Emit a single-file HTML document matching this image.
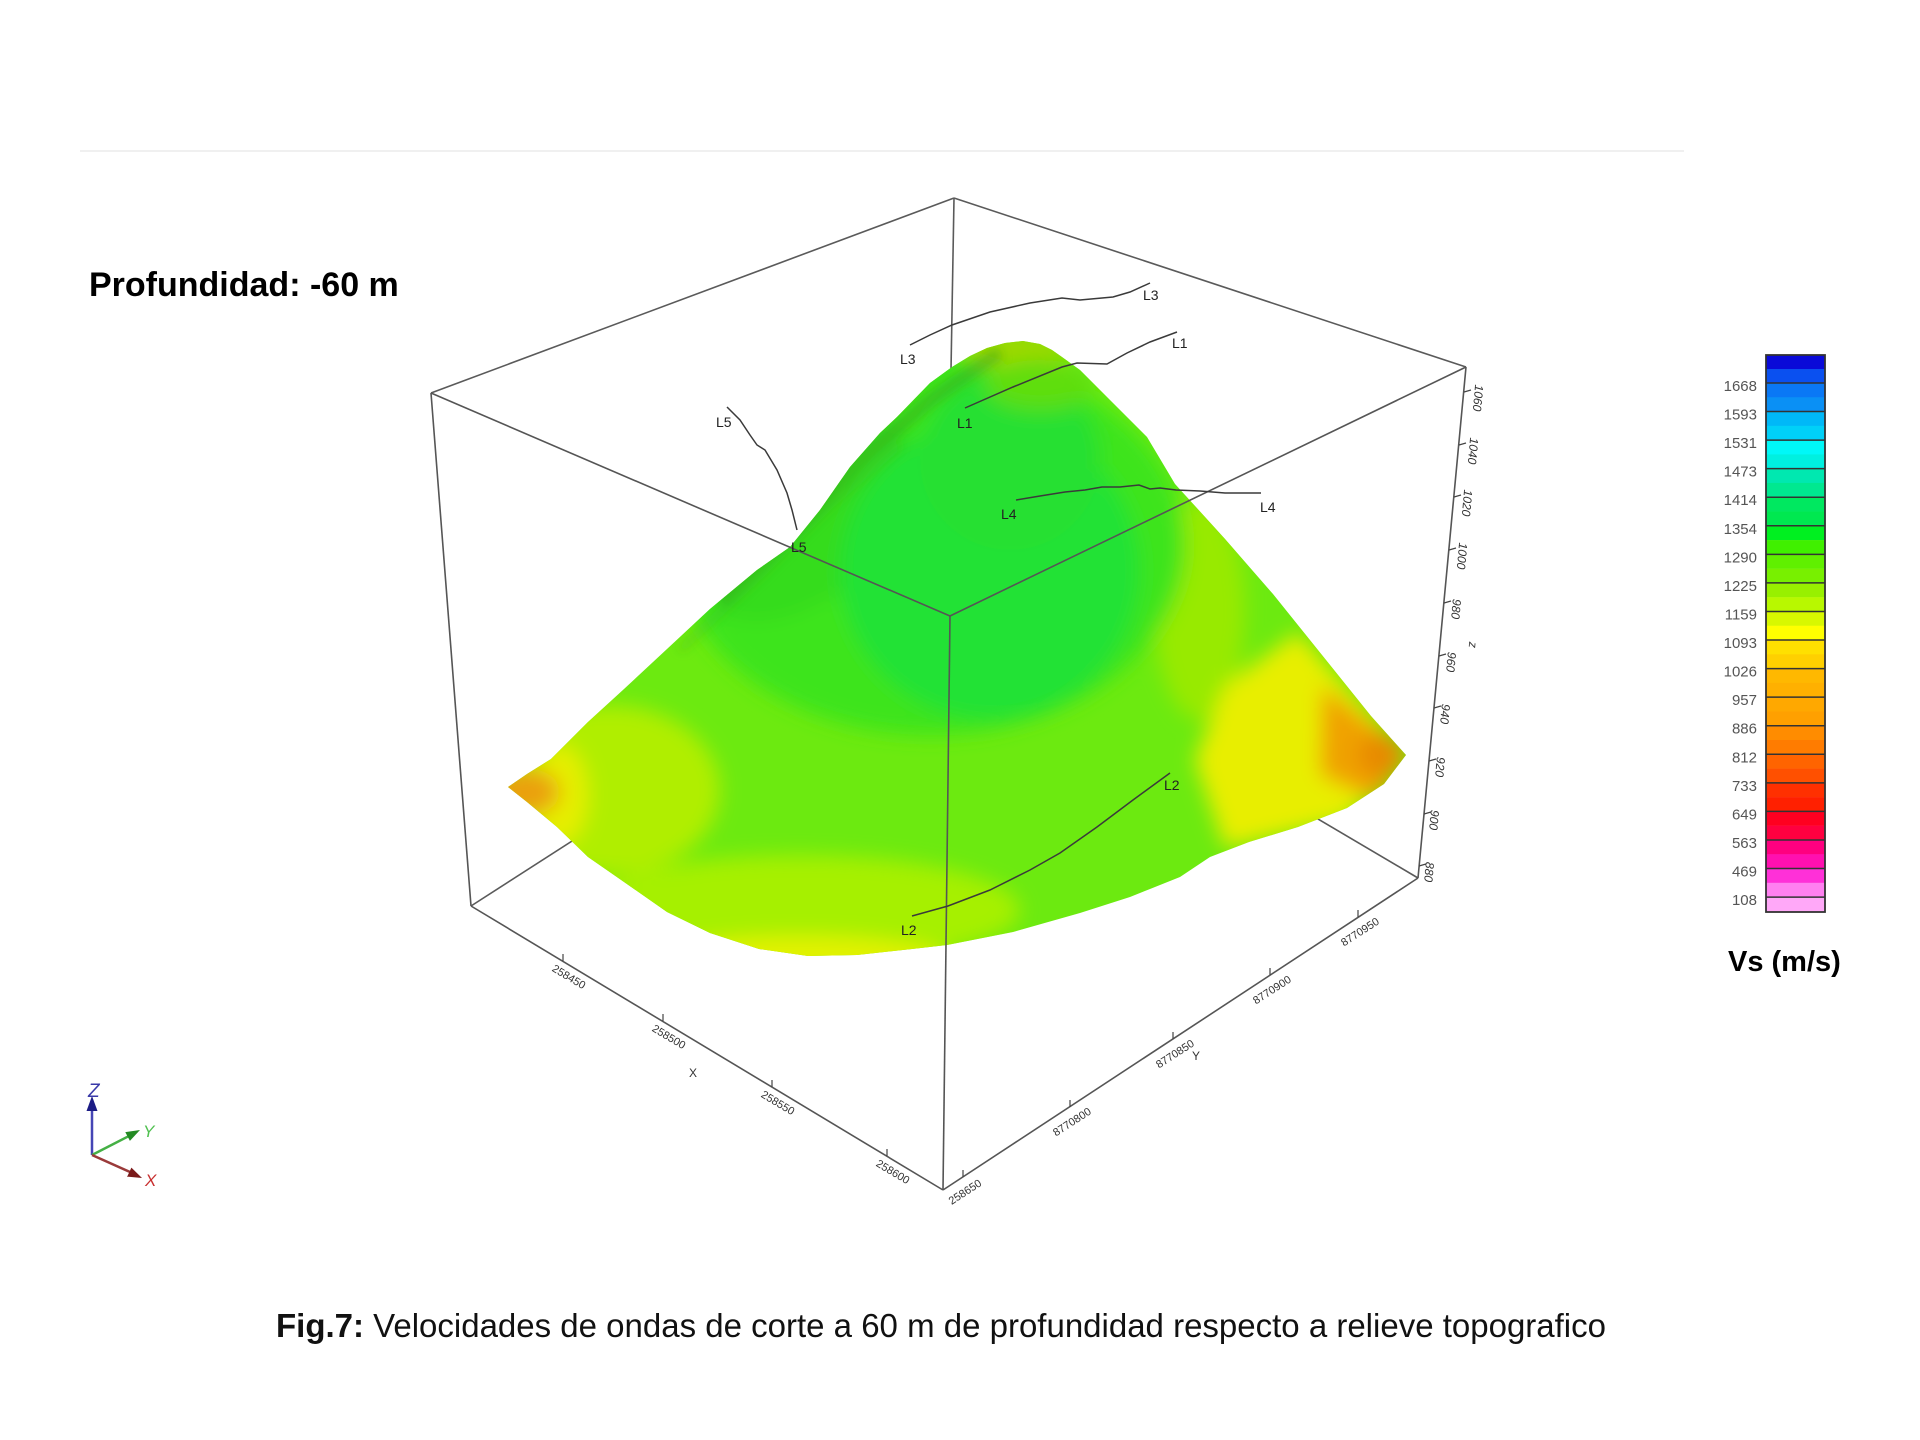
<!DOCTYPE html>
<html>
<head>
<meta charset="utf-8">
<style>
  html,body{margin:0;padding:0;background:#fff;}
  body{width:1920px;height:1440px;overflow:hidden;}
  svg{display:block;}
  text{font-family:"Liberation Sans", Arial, sans-serif;}
</style>
</head>
<body>
<svg width="1920" height="1440" viewBox="0 0 1920 1440" xmlns="http://www.w3.org/2000/svg">
  <defs>
    <clipPath id="mclip">
      <path d="M508,787 L527,774 L551,759 L588,722 L624,689 L667,649 L710,609 L757,570 L790,547 L820,510 L850,467 L880,433 L897,417 L930,383 L952,367 L970,356 L987,348 L1005,343 L1023,341 L1040,344 L1052,350 L1062,357 L1080,370 L1113,403 L1147,437 L1175,484 L1225,539 L1273,594 L1322,655 L1371,716 L1406,755 L1384,784 L1347,808 L1298,827 L1249,842 L1210,857 L1180,877 L1130,897 L1080,913 L1013,932 L947,945 L912,949 L857,955 L808,956 L759,949 L710,933 L667,912 L624,882 L588,857 L557,827 L527,802 Z"/>
    </clipPath>
    <filter id="blur" x="-20%" y="-20%" width="140%" height="140%">
      <feGaussianBlur stdDeviation="10"/>
    </filter>
    <filter id="blur2" x="-20%" y="-20%" width="140%" height="140%">
      <feGaussianBlur stdDeviation="5"/>
    </filter>
  </defs>

  <line x1="80" y1="151" x2="1684" y2="151" stroke="#f0f0f0" stroke-width="2"/>

  <text x="89" y="296" font-size="34" font-weight="bold" fill="#000">Profundidad: -60 m</text>

  <g stroke="#5a5a5a" stroke-width="1.6" fill="none">
    <line x1="954" y1="198" x2="431" y2="393"/>
    <line x1="954" y1="198" x2="1466" y2="367"/>
    <line x1="954" y1="198" x2="947" y2="600"/>
    <line x1="471" y1="906" x2="947" y2="600"/>
    <line x1="1418" y1="878" x2="947" y2="600"/>
  </g>

  <g clip-path="url(#mclip)">
    <rect x="480" y="320" width="960" height="660" fill="#6cea10"/>
    <g filter="url(#blur)">
      <ellipse cx="610" cy="790" rx="110" ry="85" fill="#b0ee00"/>
      <ellipse cx="800" cy="910" rx="220" ry="55" fill="#a6f000"/>
      <ellipse cx="800" cy="962" rx="150" ry="26" fill="#e2f200"/>
      <ellipse cx="560" cy="795" rx="28" ry="50" fill="#e6ee00"/>
      <ellipse cx="524" cy="792" rx="36" ry="24" fill="#eaa010"/>
      <ellipse cx="1200" cy="610" rx="45" ry="110" fill="#98ea00"/>
      <polygon points="1225,686 1298,632 1406,753 1347,820 1225,848 1195,760" fill="#e8ee00"/>
      <polygon points="1322,686 1410,753 1375,800 1320,775" fill="#f0a200"/>
      <ellipse cx="1380" cy="755" rx="22" ry="22" fill="#e88a00"/>
      <ellipse cx="930" cy="545" rx="255" ry="190" fill="#3ee41e"/>
      <ellipse cx="810" cy="520" rx="130" ry="75" fill="#36dc1c" transform="rotate(-40 810 520)"/>
      <ellipse cx="990" cy="570" rx="150" ry="150" fill="#20e236"/>
      <ellipse cx="1010" cy="460" rx="90" ry="90" fill="#26e032"/>
      <ellipse cx="1015" cy="350" rx="55" ry="18" fill="#9ed800"/>
      <ellipse cx="1040" cy="385" rx="55" ry="25" fill="#5ede10"/>
    </g>
    <g filter="url(#blur2)" fill="none">
      <path d="M1000,352 L930,400 L860,460 L790,530 L720,600" stroke="#2f9a18" stroke-width="14" opacity="0.4"/>
      <path d="M900,445 L830,505 L760,575 L680,650" stroke="#3aa820" stroke-width="8" opacity="0.25"/>
    </g>
  </g>

  <g stroke="#555" stroke-width="1.6" fill="none">
    <line x1="431" y1="393" x2="950" y2="616"/>
    <line x1="950" y1="616" x2="1466" y2="367"/>
    <line x1="950" y1="616" x2="943" y2="1190"/>
    <line x1="431" y1="393" x2="471" y2="906"/>
    <line x1="1466" y1="367" x2="1418" y2="878"/>
    <line x1="471" y1="906" x2="943" y2="1190"/>
    <line x1="943" y1="1190" x2="1418" y2="878"/>
  </g>

  <g stroke="#444" stroke-width="1.2">
    <line x1="563" y1="961" x2="563" y2="954"/>
    <line x1="663" y1="1021" x2="663" y2="1014"/>
    <line x1="772" y1="1087" x2="772" y2="1080"/>
    <line x1="887" y1="1156" x2="887" y2="1149"/>
  </g>
  <g font-size="11" fill="#333" text-anchor="middle">
    <text x="567" y="980" transform="rotate(31 567 980)">258450</text>
    <text x="667" y="1040" transform="rotate(31 667 1040)">258500</text>
    <text x="776" y="1106" transform="rotate(31 776 1106)">258550</text>
    <text x="891" y="1175" transform="rotate(31 891 1175)">258600</text>
    <text x="693" y="1077" font-size="12">X</text>
  </g>

  <g stroke="#444" stroke-width="1.2">
    <line x1="963" y1="1177" x2="963" y2="1170"/>
    <line x1="1070" y1="1107" x2="1070" y2="1100"/>
    <line x1="1173" y1="1039" x2="1173" y2="1032"/>
    <line x1="1270" y1="975" x2="1270" y2="968"/>
    <line x1="1358" y1="917" x2="1358" y2="910"/>
  </g>
  <g font-size="11" fill="#333" text-anchor="middle">
    <text x="967" y="1195" transform="rotate(-33 967 1195)">258650</text>
    <text x="1074" y="1125" transform="rotate(-33 1074 1125)">8770800</text>
    <text x="1177" y="1057" transform="rotate(-33 1177 1057)">8770850</text>
    <text x="1274" y="993" transform="rotate(-33 1274 993)">8770900</text>
    <text x="1362" y="935" transform="rotate(-33 1362 935)">8770950</text>
    <text x="1196" y="1060" font-size="12">Y</text>
  </g>

  <g stroke="#444" stroke-width="1.2">
    <line x1="1464" y1="392" x2="1471" y2="390"/>
    <line x1="1459" y1="445" x2="1466" y2="443"/>
    <line x1="1454" y1="497" x2="1461" y2="495"/>
    <line x1="1449" y1="550" x2="1456" y2="548"/>
    <line x1="1444" y1="603" x2="1451" y2="601"/>
    <line x1="1439" y1="656" x2="1446" y2="654"/>
    <line x1="1434" y1="708" x2="1441" y2="706"/>
    <line x1="1429" y1="761" x2="1436" y2="759"/>
    <line x1="1424" y1="814" x2="1431" y2="812"/>
    <line x1="1419" y1="866" x2="1426" y2="864"/>
  </g>
  <g font-size="12" fill="#333" text-anchor="middle" font-style="italic">
    <text x="1478" y="402" transform="rotate(95 1478 398)">1060</text>
    <text x="1473" y="455" transform="rotate(95 1473 451)">1040</text>
    <text x="1467" y="507" transform="rotate(95 1467 503)">1020</text>
    <text x="1462" y="560" transform="rotate(95 1462 556)">1000</text>
    <text x="1456" y="613" transform="rotate(95 1456 609)">980</text>
    <text x="1451" y="666" transform="rotate(95 1451 662)">960</text>
    <text x="1445" y="718" transform="rotate(95 1445 714)">940</text>
    <text x="1440" y="771" transform="rotate(95 1440 767)">920</text>
    <text x="1434" y="824" transform="rotate(95 1434 820)">900</text>
    <text x="1429" y="876" transform="rotate(95 1429 872)">880</text>
    <text x="1473" y="649" transform="rotate(95 1473 645)">z</text>
  </g>

  <g stroke="#3a3a3a" stroke-width="1.5" fill="none">
    <polyline points="910,345 930,335 952,325 990,312 1030,303 1062,298 1080,300 1113,297 1130,292 1150,283"/>
    <polyline points="965,408 1013,387 1062,367 1077,363 1107,364 1127,353 1150,342 1177,332"/>
    <polyline points="1016,500 1040,496 1065,492 1085,490 1102,487 1120,487 1139,485 1150,489 1160,488 1176,490 1200,491 1225,493 1261,493"/>
    <polyline points="727,407 740,420 750,435 757,445 765,450 777,470 787,493 792,510 797,530"/>
    <polyline points="912,916 948,906 990,890 1030,870 1060,853 1097,827 1133,800 1170,773"/>
  </g>
  <g font-size="14" fill="#222">
    <text x="900" y="364">L3</text>
    <text x="1143" y="300">L3</text>
    <text x="957" y="428">L1</text>
    <text x="1172" y="348">L1</text>
    <text x="1001" y="519">L4</text>
    <text x="1260" y="512">L4</text>
    <text x="716" y="427">L5</text>
    <text x="791" y="552">L5</text>
    <text x="901" y="935">L2</text>
    <text x="1164" y="790">L2</text>
  </g>

  <g>
    <rect x="1766" y="355" width="59" height="14.5" fill="#0a0ad8"/>
    <rect x="1766" y="369" width="59" height="14.5" fill="#0a50f0"/>
    <rect x="1766" y="383" width="59" height="14.5" fill="#0a78f5"/>
    <rect x="1766" y="397.28" width="59" height="14.5" fill="#0a90f5"/>
    <rect x="1766" y="411.56" width="59" height="14.5" fill="#00b8f8"/>
    <rect x="1766" y="425.84" width="59" height="14.5" fill="#00d0f8"/>
    <rect x="1766" y="440.12" width="59" height="14.5" fill="#00f8f8"/>
    <rect x="1766" y="454.4" width="59" height="14.5" fill="#00f0e0"/>
    <rect x="1766" y="468.68" width="59" height="14.5" fill="#00e8b0"/>
    <rect x="1766" y="482.96" width="59" height="14.5" fill="#00e890"/>
    <rect x="1766" y="497.24" width="59" height="14.5" fill="#00e860"/>
    <rect x="1766" y="511.52" width="59" height="14.5" fill="#00e850"/>
    <rect x="1766" y="525.8" width="59" height="14.5" fill="#00f020"/>
    <rect x="1766" y="540.08" width="59" height="14.5" fill="#40f000"/>
    <rect x="1766" y="554.36" width="59" height="14.5" fill="#60f000"/>
    <rect x="1766" y="568.64" width="59" height="14.5" fill="#78f000"/>
    <rect x="1766" y="582.92" width="59" height="14.5" fill="#98f000"/>
    <rect x="1766" y="597.2" width="59" height="14.5" fill="#b8f800"/>
    <rect x="1766" y="611.48" width="59" height="14.5" fill="#d8f800"/>
    <rect x="1766" y="625.76" width="59" height="14.5" fill="#ffff00"/>
    <rect x="1766" y="640.04" width="59" height="14.5" fill="#ffe000"/>
    <rect x="1766" y="654.32" width="59" height="14.5" fill="#ffd000"/>
    <rect x="1766" y="668.6" width="59" height="14.5" fill="#ffb800"/>
    <rect x="1766" y="682.88" width="59" height="14.5" fill="#ffb000"/>
    <rect x="1766" y="697.16" width="59" height="14.5" fill="#ffa800"/>
    <rect x="1766" y="711.44" width="59" height="14.5" fill="#ffa000"/>
    <rect x="1766" y="725.72" width="59" height="14.5" fill="#ff8c00"/>
    <rect x="1766" y="740" width="59" height="14.5" fill="#ff7c00"/>
    <rect x="1766" y="754.28" width="59" height="14.5" fill="#ff6400"/>
    <rect x="1766" y="768.56" width="59" height="14.5" fill="#ff5000"/>
    <rect x="1766" y="782.84" width="59" height="14.5" fill="#ff3000"/>
    <rect x="1766" y="797.12" width="59" height="14.5" fill="#ff2000"/>
    <rect x="1766" y="811.4" width="59" height="14.5" fill="#ff0020"/>
    <rect x="1766" y="825.68" width="59" height="14.5" fill="#ff0040"/>
    <rect x="1766" y="839.96" width="59" height="14.5" fill="#ff0080"/>
    <rect x="1766" y="854.24" width="59" height="14.5" fill="#ff10b0"/>
    <rect x="1766" y="868.52" width="59" height="14.5" fill="#ff30d8"/>
    <rect x="1766" y="882.8" width="59" height="14.5" fill="#ff80f0"/>
    <rect x="1766" y="897.08" width="59" height="14.92" fill="#ffa8f8"/>
    <g stroke="#333" stroke-width="1.5">
      <line x1="1766" x2="1825" y1="383" y2="383"/>
      <line x1="1766" x2="1825" y1="411.56" y2="411.56"/>
      <line x1="1766" x2="1825" y1="440.12" y2="440.12"/>
      <line x1="1766" x2="1825" y1="468.68" y2="468.68"/>
      <line x1="1766" x2="1825" y1="497.24" y2="497.24"/>
      <line x1="1766" x2="1825" y1="525.8" y2="525.8"/>
      <line x1="1766" x2="1825" y1="554.36" y2="554.36"/>
      <line x1="1766" x2="1825" y1="582.92" y2="582.92"/>
      <line x1="1766" x2="1825" y1="611.48" y2="611.48"/>
      <line x1="1766" x2="1825" y1="640.04" y2="640.04"/>
      <line x1="1766" x2="1825" y1="668.6" y2="668.6"/>
      <line x1="1766" x2="1825" y1="697.16" y2="697.16"/>
      <line x1="1766" x2="1825" y1="725.72" y2="725.72"/>
      <line x1="1766" x2="1825" y1="754.28" y2="754.28"/>
      <line x1="1766" x2="1825" y1="782.84" y2="782.84"/>
      <line x1="1766" x2="1825" y1="811.4" y2="811.4"/>
      <line x1="1766" x2="1825" y1="839.96" y2="839.96"/>
      <line x1="1766" x2="1825" y1="868.52" y2="868.52"/>
      <line x1="1766" x2="1825" y1="897.08" y2="897.08"/>
    </g>
    <rect x="1766" y="355" width="59" height="557" fill="none" stroke="#333" stroke-width="1.8"/>
    <g font-size="15" fill="#555" text-anchor="end">
      <text x="1757" y="391">1668</text>
      <text x="1757" y="419.6">1593</text>
      <text x="1757" y="448.1">1531</text>
      <text x="1757" y="476.7">1473</text>
      <text x="1757" y="505.2">1414</text>
      <text x="1757" y="533.8">1354</text>
      <text x="1757" y="562.4">1290</text>
      <text x="1757" y="590.9">1225</text>
      <text x="1757" y="619.5">1159</text>
      <text x="1757" y="648">1093</text>
      <text x="1757" y="676.6">1026</text>
      <text x="1757" y="705.2">957</text>
      <text x="1757" y="733.7">886</text>
      <text x="1757" y="762.3">812</text>
      <text x="1757" y="790.8">733</text>
      <text x="1757" y="819.4">649</text>
      <text x="1757" y="848">563</text>
      <text x="1757" y="876.5">469</text>
      <text x="1757" y="905.1">108</text>
    </g>
    <text x="1728" y="971" font-size="29" font-weight="bold" fill="#000">Vs (m/s)</text>
  </g>

  <g>
    <line x1="92" y1="1155" x2="92" y2="1106" stroke="#4545b5" stroke-width="2.5"/>
    <polygon points="92,1096 86.5,1111 97.5,1111" fill="#1c1c85"/>
    <line x1="92" y1="1155" x2="129" y2="1136" stroke="#45b045" stroke-width="2.5"/>
    <polygon points="140,1130 129.9,1140.9 125.3,1132.1" fill="#238a23"/>
    <line x1="92" y1="1155" x2="130" y2="1172" stroke="#9a3a3a" stroke-width="2.5"/>
    <polygon points="142,1178 127.2,1176.6 131.4,1167.6" fill="#7a1a1a"/>
    <text x="88" y="1097" font-family="Liberation Serif, serif" font-style="italic" font-size="19" fill="#3a3aa8">Z</text>
    <text x="143" y="1137" font-family="Liberation Serif, serif" font-style="italic" font-size="17" fill="#50c050">Y</text>
    <text x="145" y="1186" font-family="Liberation Serif, serif" font-style="italic" font-size="17" fill="#c83030">X</text>
  </g>

  <text x="276" y="1337" font-size="33" fill="#111"><tspan font-weight="bold">Fig.7:</tspan> Velocidades de ondas de corte a 60 m de profundidad respecto a relieve topografico</text>
</svg>
</body>
</html>
